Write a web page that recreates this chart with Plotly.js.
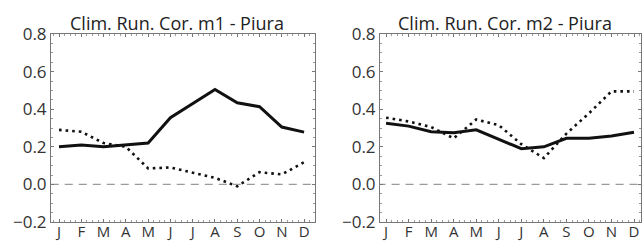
<!DOCTYPE html>
<html>
<head>
<meta charset="utf-8">
<script src="https://cdn.plot.ly/plotly-3.0.1.min.js"></script>
<style>html,body{margin:0;padding:0;background:#fff;}#chart{width:642px;height:244px;}</style>
</head>
<body>
<div id="chart"></div>
<script>
const months = [1,2,3,4,5,6,7,8,9,10,11,12];
const monthLabels = ["J","F","M","A","M","J","J","A","S","O","N","D"];
const m1Solid = [0.20, 0.21, 0.20, 0.21, 0.22, 0.355, 0.43, 0.505, 0.434, 0.413, 0.305, 0.278];
const m1Dotted = [0.29, 0.28, 0.22, 0.20, 0.085, 0.09, 0.062, 0.035, -0.01, 0.065, 0.053, 0.118];
const m2Solid = [0.325, 0.31, 0.28, 0.275, 0.29, 0.24, 0.19, 0.20, 0.245, 0.245, 0.257, 0.277];
const m2Dotted = [0.355, 0.335, 0.305, 0.245, 0.345, 0.315, 0.214, 0.14, 0.27, 0.378, 0.495, 0.495];
const titles = ["Clim. Run. Cor. m1 - Piura", "Clim. Run. Cor. m2 - Piura"];
const yTicks = [-0.2, 0.0, 0.2, 0.4, 0.6, 0.8];

const font = "Open Sans, Noto Sans, sans-serif";
const solidLine = {color: "#111", width: 3};
const dotLine = {color: "#111", width: 2.6, dash: "2.6px,4px"};
const zeroLine = {color: "#9a9a9a", width: 1.3, dash: "8px,6px"};

const traces = [
  {x: months, y: m1Dotted, mode: "lines", line: dotLine, xaxis: "x", yaxis: "y"},
  {x: months, y: m1Solid, mode: "lines", line: solidLine, xaxis: "x", yaxis: "y"},
  {x: [months[0] - 1, months[months.length-1] + 1], y: [0, 0], mode: "lines", line: zeroLine, xaxis: "x", yaxis: "y"},
  {x: months, y: m2Dotted, mode: "lines", line: dotLine, xaxis: "x2", yaxis: "y2"},
  {x: months, y: m2Solid, mode: "lines", line: solidLine, xaxis: "x2", yaxis: "y2"},
  {x: [months[0] - 1, months[months.length-1] + 1], y: [0, 0], mode: "lines", line: zeroLine, xaxis: "x2", yaxis: "y2"}
];

function xax(domain, range, anchor) {
  return {
    domain: domain, range: range, anchor: anchor,
    tickvals: months, ticktext: monthLabels,
    ticks: "inside", ticklen: 3, tickcolor: "#777",
    showline: true, mirror: "ticks", linecolor: "#777", linewidth: 1,
    showgrid: false, zeroline: false,
    ticklabelstandoff: -4,
    tickfont: {family: font, size: 15, color: "#333"},
    minor: {ticks: "inside", ticklen: 2, dtick: 0.25, tickcolor: "#999"}
  };
}
function yax(range, anchor, domain) {
  return {
    domain: domain, range: range, anchor: anchor,
    tickvals: yTicks, tickformat: ".1f",
    ticks: "inside", ticklen: 3, tickcolor: "#777",
    showline: true, mirror: "ticks", linecolor: "#777", linewidth: 1,
    showgrid: false, zeroline: false,
    tickfont: {family: font, size: 17, color: "#333"},
    minor: {ticks: "inside", ticklen: 2, dtick: 0.05, tickcolor: "#999"}
  };
}

const yDom = [22/244, 210/244];
const layout = {
  width: 642, height: 244,
  margin: {l: 0, r: 0, t: 0, b: 0},
  paper_bgcolor: "#fff", plot_bgcolor: "#fff",
  showlegend: false,
  xaxis: xax([51/642, 315/642], [0.64, 12.49], "y"),
  yaxis: yax([-0.2, 0.8], "x", yDom),
  xaxis2: xax([380/642, 641/642], [0.73, 12.31], "y2"),
  yaxis2: yax([-0.2, 0.8], "x2", yDom),
  annotations: [
    {text: titles[0], xref: "paper", yref: "paper", x: 177/642, y: (244-23)/244, xanchor: "center", yanchor: "middle", showarrow: false, font: {family: font, size: 18, color: "#222"}},
    {text: titles[1], xref: "paper", yref: "paper", x: 505/642, y: (244-23)/244, xanchor: "center", yanchor: "middle", showarrow: false, font: {family: font, size: 18, color: "#222"}}
  ]
};

Plotly.newPlot("chart", traces, layout, {staticPlot: true, displayModeBar: false});
</script>
</body>
</html>
